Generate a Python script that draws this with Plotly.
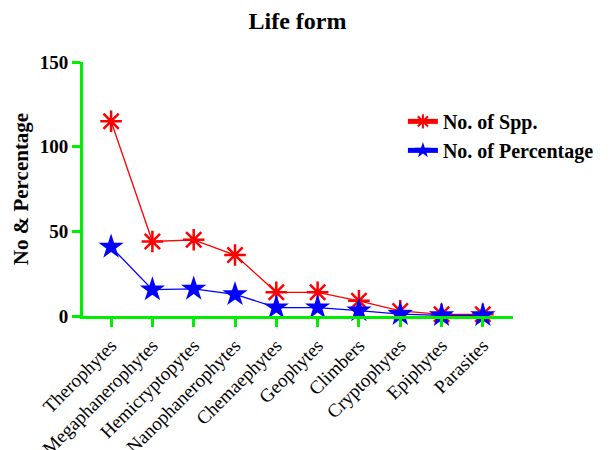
import plotly.graph_objects as go

categories = ["Therophytes", "Megaphanerophytes", "Hemicryptopytes", "Nanophanerophytes",
              "Chemaephytes", "Geophytes", "Climbers", "Cryptophytes", "Epiphytes", "Parasites"]
spp = [115, 44, 45, 36, 14, 14, 9, 3, 1, 1]
percentage = [40.8, 15.6, 16.0, 12.8, 5.0, 5.0, 3.2, 1.1, 0.4, 0.4]
y_ticks = [0, 50, 100, 150]

GREEN = "#00ee00"
FONT = "Liberation Serif"

fig = go.Figure()
fig.add_trace(go.Scatter(
    x=categories, y=spp, name="<b>No. of Spp.</b>", mode="lines+markers",
    line=dict(color="red", width=1.3),
    marker=dict(symbol="asterisk", size=18, color="red", line=dict(color="red", width=2.5)),
    cliponaxis=False,
))
fig.add_trace(go.Scatter(
    x=categories, y=percentage, name="<b>No. of Percentage</b>", mode="lines+markers",
    line=dict(color="blue", width=1.3),
    marker=dict(symbol="star", size=19, color="blue", line=dict(width=0)),
    cliponaxis=False,
))

fig.update_layout(
    width=607, height=442,
    margin=dict(l=75, r=102, t=54, b=134),
    plot_bgcolor="white", paper_bgcolor="white",
    title=dict(text="<b>Life form</b>", x=0.477, xanchor="center", y=0.971, yanchor="middle",
               font=dict(family=FONT, size=24, color="black")),
    font=dict(family=FONT, color="black"),
    showlegend=True,
    legend=dict(x=0.744, y=0.843, xanchor="left", yanchor="top", bgcolor="rgba(0,0,0,0)",
                font=dict(family=FONT, size=20, color="black"), tracegroupgap=0,
                itemsizing="constant"),
    xaxis=dict(
        type="category", range=[-0.68, 9.73],
        showline=True, linecolor=GREEN, linewidth=3,
        ticks="outside", ticklen=8, tickwidth=3, tickcolor=GREEN,
        showgrid=False, zeroline=False, tickangle=-45,
        tickfont=dict(family=FONT, size=19, color="black"),
        automargin=False,
    ),
    yaxis=dict(
        range=[0, 150], tickvals=y_ticks, ticktext=[f"<b>{v}</b>" for v in y_ticks],
        showline=True, linecolor=GREEN, linewidth=3,
        ticks="outside", ticklen=8, tickwidth=3, tickcolor=GREEN,
        showgrid=False, zeroline=False,
        tickfont=dict(family=FONT, size=19, color="black"),
        title=dict(text="<b>No & Percentage</b>", font=dict(family=FONT, size=21, color="black"), standoff=6),
        automargin=False,
    ),
)

fig.write_html("out.html")
